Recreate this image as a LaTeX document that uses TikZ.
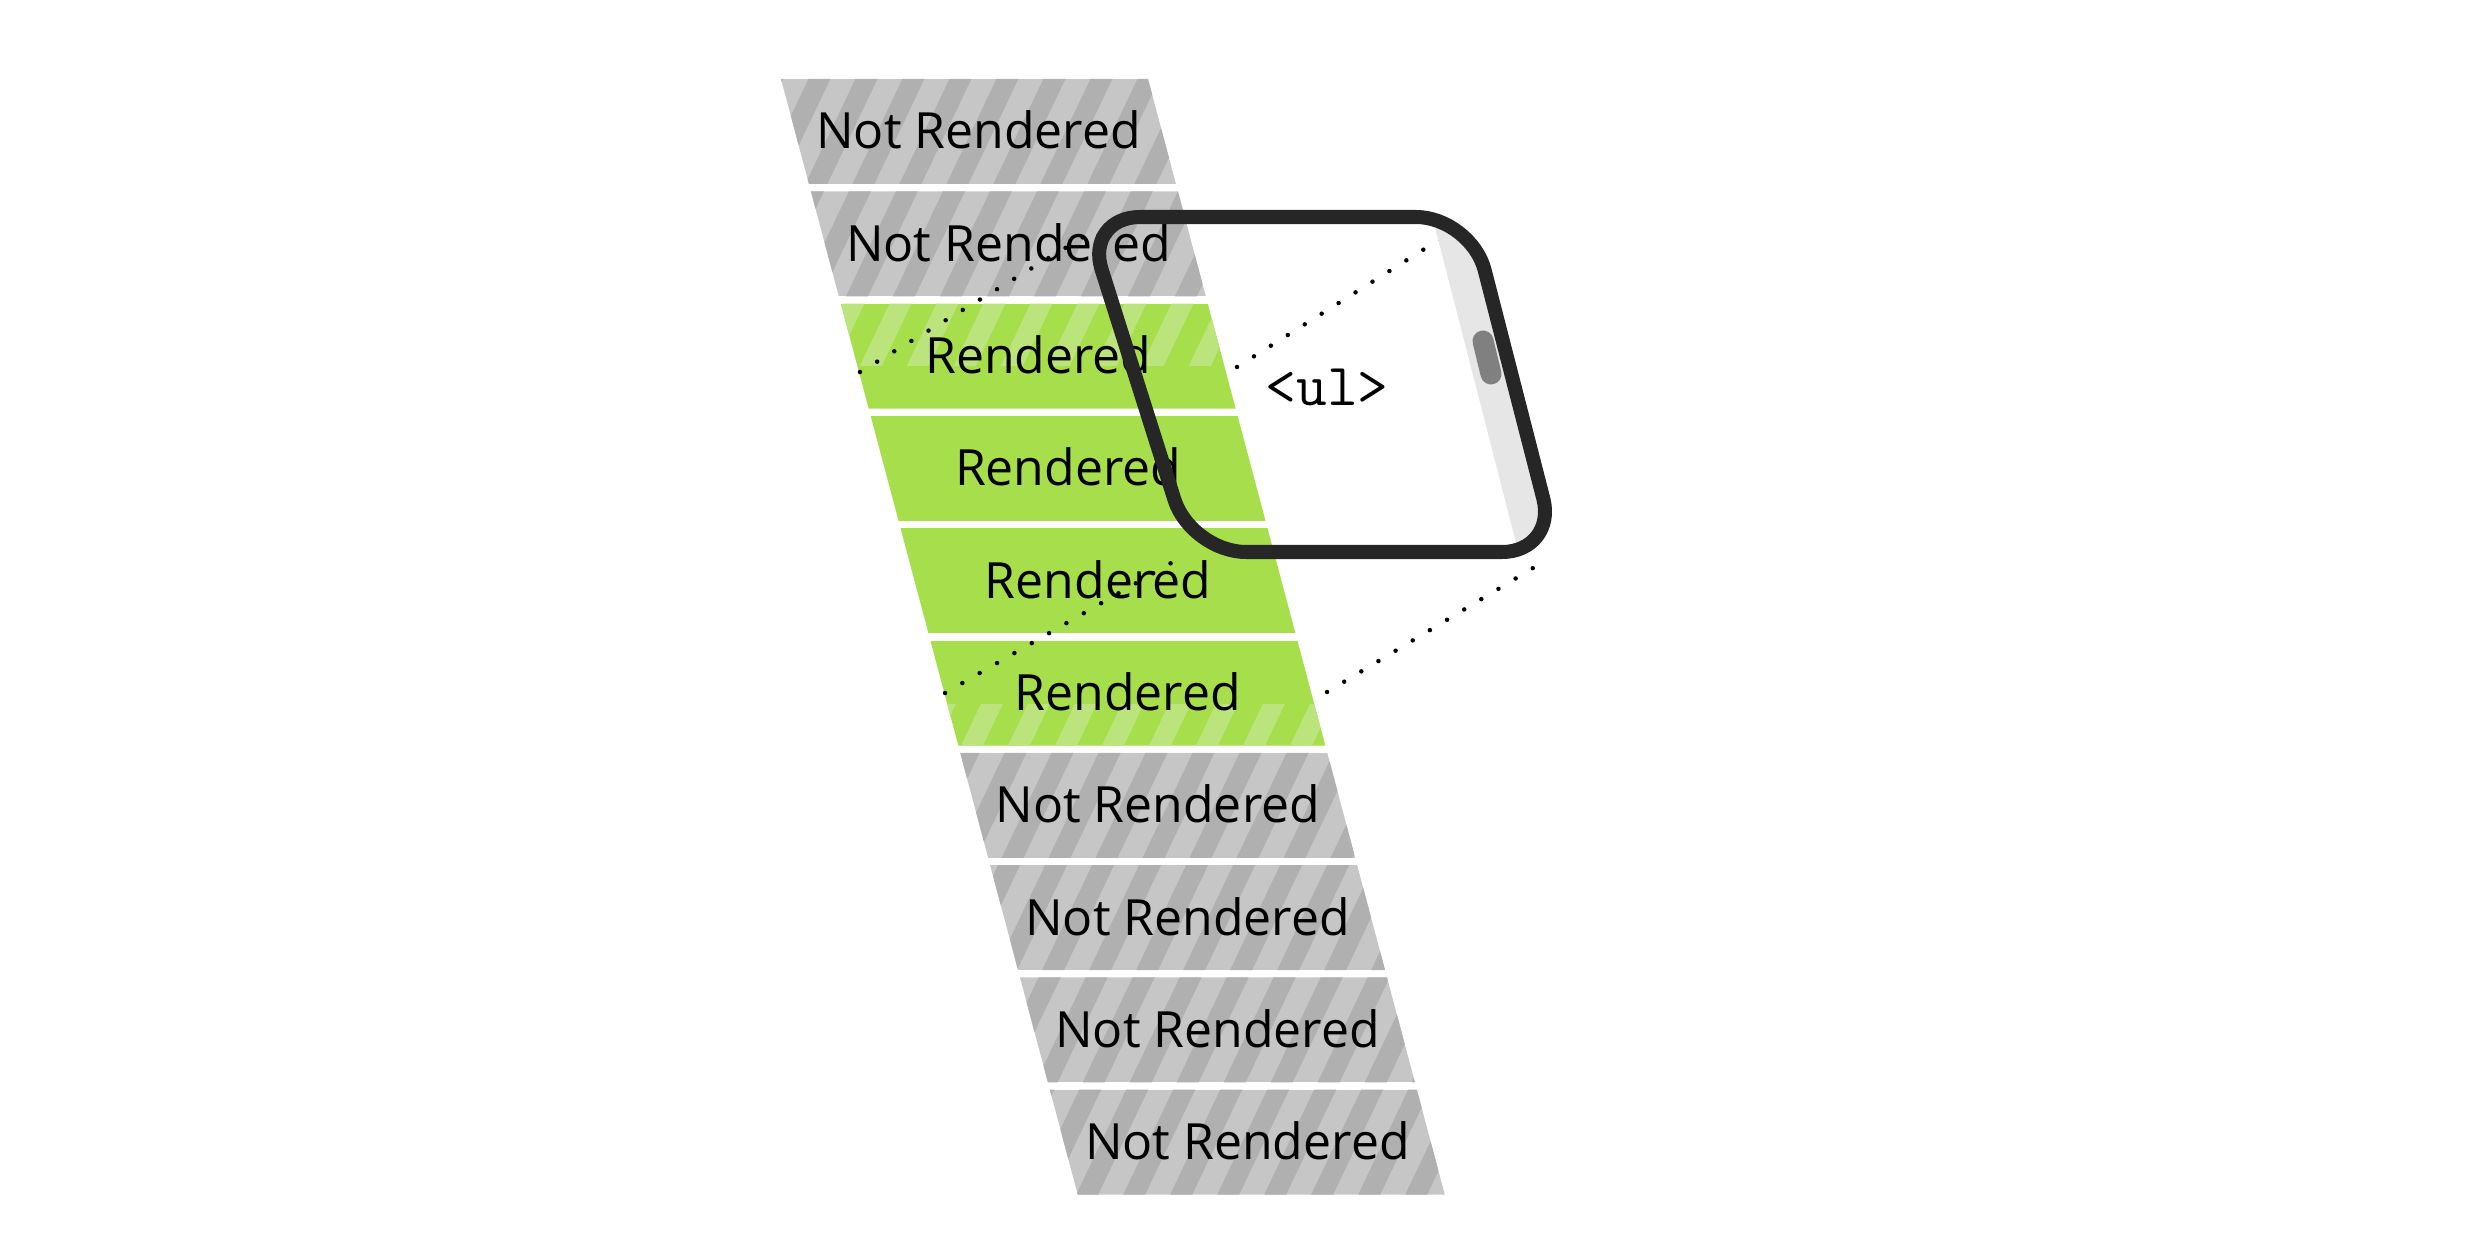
\documentclass[tikz,border=0pt]{standalone}
\usepackage{fontspec}
\setmainfont{Open Sans}
\usepackage{xcolor}
\usepackage{tikz}

\definecolor{offbase}{HTML}{C6C6C6}
\definecolor{offstripe}{HTML}{B0B0B0}
\definecolor{onbase}{HTML}{A6DE4C}
\definecolor{onstripe}{HTML}{BBE47C}
\definecolor{framegray}{HTML}{262626}
\definecolor{trackgray}{HTML}{E6E6E6}
\definecolor{thumbgray}{HTML}{808080}

\begin{document}
\begin{tikzpicture}[x=0.01cm, y=-0.01cm,
        itemlabel/.style={font=\fontsize{14.2}{17}\selectfont, anchor=base, inner sep=0pt},
        tag/.style={font=\ttfamily\fontsize{17}{19}\selectfont, inner sep=0pt},
        proj/.style={line width=0.045cm, line cap=round, dash pattern=on 0pt off 0.2cm},
        device/.style={draw=framegray, line width=0.14cm, rounded corners=0.55cm, line join=round}]

        \useasboundingbox (0,0) rectangle (2482,1258);

        % list items, slanted
        \foreach \i/\base/\stripe/\from/\to/\txt in {
                0/offbase/offstripe/0/1258/Not Rendered,
                1/offbase/offstripe/0/1258/Not Rendered,
                2/onbase/onstripe/0/366/Rendered,
                3/onbase/onstripe/0/0/Rendered,
                4/onbase/onstripe/0/0/Rendered,
                5/onbase/onstripe/704/1258/Rendered,
                6/offbase/offstripe/0/1258/Not Rendered,
                7/offbase/offstripe/0/1258/Not Rendered,
                8/offbase/offstripe/0/1258/Not Rendered,
                9/offbase/offstripe/0/1258/Not Rendered} {
            \pgfmathsetmacro\t{79+112.3*\i}
            \pgfmathsetmacro\b{\t+105}
            \pgfmathsetmacro\l{781+0.266*(\t-79)}
            \pgfmathsetmacro\lb{781+0.266*(\b-79)}
            \begin{scope}
                \path[clip] (\l,\t) -- ++(367,0) -- ({\lb+367},\b) -- (\lb,\b) -- cycle;
                \fill[\base] (0,\t) rectangle (2482,\b);
                \clip (0,\from) rectangle (2482,\to);
                \foreach \k in {0,...,27}
                    \fill[\stripe] ({200+47*\k},1258) -- ++(22,0) -- ++(599,-1258) -- ++(-22,0) -- cycle;
            \end{scope}
            \node[itemlabel] (item\i) at ({\l+197.5},{\t+70}) {\txt};
        }

        % projection of the viewport onto the list
        \coordinate (top-l) at (860,372);
        \coordinate (top-r) at (1237,367);
        \coordinate (bot-l) at (945,693);
        \coordinate (bot-r) at (1327,692);
        \coordinate (view-tl) at (1090,233);
        \coordinate (view-tr) at (1445,236);
        \coordinate (view-bl) at (1178,559);
        \coordinate (view-br) at (1543,562);

        \draw[proj] (top-l) -- (view-tl);
        \draw[proj] (top-r) -- (view-tr);
        \draw[proj] (bot-l) -- (view-bl);
        \draw[proj] (bot-r) -- (view-br);

        % viewport
        \begin{scope}
            \path[clip, rounded corners=0.55cm] (1085,217) -- (1471,217) -- (1557,552) -- (1191,552) -- cycle;
            \fill[trackgray] (1428,200) -- (1600,200) -- (1600,570) -- (1523,570) -- cycle;
        \end{scope}
        \draw[thumbgray, line width=0.21cm, line cap=round] (1483,341) -- (1491,374);
        \draw[device] (1085,217) -- (1471,217) -- (1557,552) -- (1191,552) -- cycle;

        \node[tag] (list) at (1327,387) {<ul>};

    \end{tikzpicture}
\end{document}
